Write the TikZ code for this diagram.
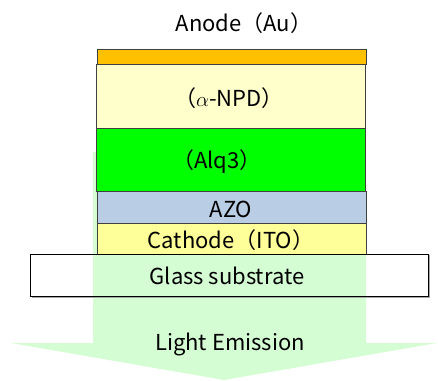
\documentclass[tikz,border=0pt]{standalone}
\usepackage{fontspec}
\setmainfont{Noto Sans CJK JP}
\usetikzlibrary{positioning}

\definecolor{auorange}{HTML}{FFC000}
\definecolor{npdyellow}{HTML}{FFFFCC}
\definecolor{alqgreen}{HTML}{00FF00}
\definecolor{azoblue}{HTML}{B9CDE5}
\definecolor{itoyellow}{HTML}{FFFF99}
\definecolor{lightgreen}{HTML}{D4FDD4}
\definecolor{edgegray}{HTML}{404040}

\begin{document}
\begin{tikzpicture}[%
      x=1pt, y=-1pt,
      layer/.style={draw=edgegray, line width=0.8pt, inner sep=0pt,
        minimum width=269pt},
      txt/.style={font=\fontsize{22}{24}\selectfont, inner sep=0pt},
      ]
      \useasboundingbox (0,0) rectangle (438,380);

      % light emission arrow (behind the layers)
      \fill [color=lightgreen] (93,152) -- (366,152) -- (366,343) -- (437,343)
        -- (224,380) -- (11,343) -- (93,343) -- cycle;

      % layer stack
      \node [layer, fill=auorange, minimum height=15pt] (anode) at (231.5,56.5) {};
      \node [layer, fill=npdyellow, minimum height=64pt] (npd) at (230.5,96) {};
      \node [layer, fill=alqgreen, minimum height=63pt] (alq) at (230.5,159.5) {};
      \node [layer, fill=azoblue, minimum height=32pt] (azo) at (231.5,207) {};
      \node [layer, fill=itoyellow, minimum height=31pt] (ito) at (231.5,238.5) {};

      % glass substrate, open so the arrow shows through
      \node [inner sep=0pt, minimum width=397pt, minimum height=41pt] (glass) at (229.5,275.5) {};
      \draw [color=gray!70, line width=1.2pt] ([xshift=1.5pt]glass.north east)
        -- ([xshift=1.5pt, yshift=-1.5pt]glass.south east)
        -- ([xshift=1.5pt, yshift=-1.5pt]glass.south west);
      \draw [draw=black, line width=0.8pt] (glass.south west) rectangle (glass.north east);

      \node [txt] (anodetxt) at (244,23) {Anode（Au）};
      \node [txt] (npdtxt) at (229,98) {（$\alpha$-NPD）};
      \node [txt] (alqtxt) at (217,162) {（Alq3）};
      \node [txt] (azotxt) at (231,209) {AZO};
      \node [txt] (itotxt) at (231,240) {Cathode（ITO）};
      \node [txt] (glasstxt) at (227,276) {Glass substrate};
      \node [txt] (lighttxt) at (230,344) {Light Emission};
\end{tikzpicture}
\end{document}
